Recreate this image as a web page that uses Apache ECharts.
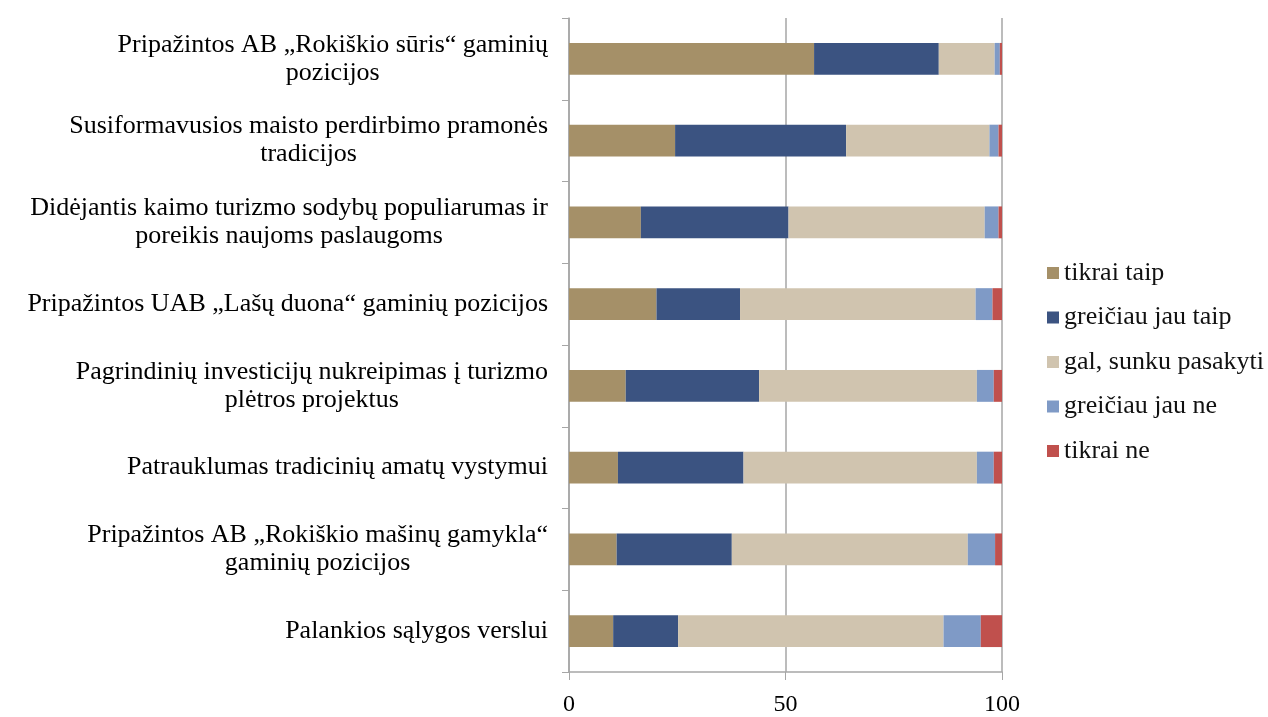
<!DOCTYPE html>
<html>
<head>
<meta charset="utf-8">
<script src="https://cdn.jsdelivr.net/npm/echarts@6/dist/echarts.min.js"></script>
<style>
  html, body { margin: 0; padding: 0; background: #fff; }
  #chart { width: 1268px; height: 717px; }
</style>
</head>
<body>
<div id="chart"></div>
<script>
// kategorijos (nuo viršaus)
var categories = [
  'Pripažintos AB „Rokiškio sūris“ gaminių\npozicijos',
  'Susiformavusios maisto perdirbimo pramonės\ntradicijos',
  'Didėjantis kaimo turizmo sodybų populiarumas ir\nporeikis naujoms paslaugoms',
  'Pripažintos UAB „Lašų duona“ gaminių pozicijos',
  'Pagrindinių investicijų nukreipimas į turizmo\nplėtros projektus',
  'Patrauklumas tradicinių amatų vystymui',
  'Pripažintos AB „Rokiškio mašinų gamykla“\ngaminių pozicijos',
  'Palankios sąlygos verslui'
];

var tikraiTaip       = [56.6, 24.5, 16.6, 20.2, 13.1, 11.3, 11.0, 10.2];
var greiciauTaip     = [28.8, 39.5, 34.1, 19.3, 30.8, 29.0, 26.6, 15.0];
var galSunku         = [12.9, 33.1, 45.3, 54.4, 50.3, 53.9, 54.5, 61.3];
var greiciauNe       = [1.2, 2.1, 3.2, 3.9, 3.9, 3.9, 6.3, 8.6];
var tikraiNe         = [0.5, 0.8, 0.8, 2.2, 1.9, 1.9, 1.6, 4.9];

var seriesNames = ['tikrai taip', 'greičiau jau taip', 'gal, sunku pasakyti', 'greičiau jau ne', 'tikrai ne'];
var seriesData = [tikraiTaip, greiciauTaip, galSunku, greiciauNe, tikraiNe];
var colors = ['#A59068', '#3B5381', '#D0C4AF', '#7F9AC6', '#C0504D'];

var font = 'Liberation Serif, Times New Roman, serif';

var myChart = echarts.init(document.getElementById('chart'));

var series = [];
for (var i = 0; i < seriesNames.length; i++) {
  series.push({
    name: seriesNames[i],
    type: 'bar',
    stack: 'total',
    barCategoryGap: '61%',
    itemStyle: { color: colors[i] },
    data: seriesData[i]
  });
}

var option = {
  animation: false,
  color: colors,
  textStyle: { fontFamily: font },
  grid: { left: 569, right: 266, top: 18, bottom: 43 },
  legend: {
    orient: 'vertical',
    left: 1042,
    top: 255,
    itemWidth: 12,
    itemHeight: 12,
    itemGap: 18.5,
    icon: 'rect',
    textStyle: { fontFamily: font, fontSize: 26, color: '#111' },
    data: seriesNames
  },
  xAxis: {
    type: 'value',
    min: 0,
    max: 100,
    interval: 50,
    axisLine: { show: true, lineStyle: { color: '#A6A6A6', width: 1.5 } },
    axisTick: { show: true, length: 8, lineStyle: { color: '#A6A6A6' } },
    axisLabel: { fontFamily: font, fontSize: 24, color: '#000', margin: 21 },
    splitLine: { show: true, lineStyle: { color: '#A6A6A6', width: 1.5 } }
  },
  yAxis: {
    type: 'category',
    inverse: true,
    data: categories,
    axisLine: { show: true, lineStyle: { color: '#A6A6A6', width: 1.5 } },
    axisTick: { show: true, length: 7, lineStyle: { color: '#A6A6A6' } },
    axisLabel: {
      margin: 21,
      formatter: function (v) {
        return v.split('\n').map(function (l) { return '{a|' + l + '}'; }).join('\n');
      },
      rich: {
        a: { fontFamily: font, fontSize: 26, color: '#000', align: 'center', lineHeight: 28 }
      }
    }
  },
  series: series
};
myChart.setOption(option);
</script>
</body>
</html>
